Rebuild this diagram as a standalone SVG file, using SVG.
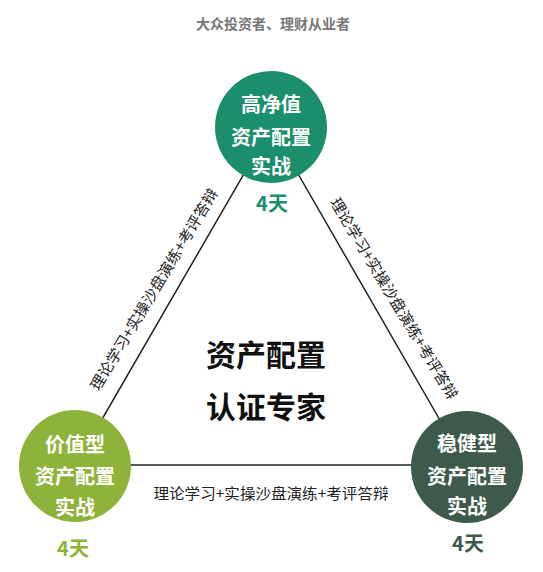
<svg xmlns="http://www.w3.org/2000/svg" width="543" height="572" viewBox="0 0 543 572">
<style>
text{font-family:"Noto Sans CJK SC","Noto Sans CJK JP",sans-serif;text-anchor:middle;dominant-baseline:central}
.title{font-size:14px;font-weight:bold;fill:#777}
.ct{font-size:20px;font-weight:bold;fill:#fff}
.days{font-size:20px;font-weight:bold}
.lbl{font-size:15px;fill:#222}
.center{font-size:30px;font-weight:bold;fill:#111}
.edge{stroke:#222;stroke-width:1.5;fill:none}
</style>
<rect width="543" height="572" fill="#fff"/>
<text class="title" x="273" y="23">大众投资者、理财从业者</text>
<g id="connectors">
<line class="edge" x1="271" y1="127" x2="75" y2="466"/>
<line class="edge" x1="271" y1="127" x2="467" y2="467"/>
<line class="edge" x1="75" y1="465" x2="467" y2="465"/>
<text class="lbl" transform="translate(153,289) rotate(-59)" textLength="232" lengthAdjust="spacingAndGlyphs">理论学习+实操沙盘演练+考评答辩</text>
<text class="lbl" transform="translate(395,298) rotate(59)" textLength="232" lengthAdjust="spacingAndGlyphs">理论学习+实操沙盘演练+考评答辩</text>
<text class="lbl" x="271" y="492" textLength="235" lengthAdjust="spacingAndGlyphs">理论学习+实操沙盘演练+考评答辩</text>
</g>
<g id="center">
<text class="center" x="266" y="353">资产配置</text>
<text class="center" x="266" y="405">认证专家</text>
</g>
<g id="top">
<circle cx="271" cy="127" r="56" fill="#1b8e6b"/>
<text class="ct" x="271" y="103">高净值</text>
<text class="ct" x="271" y="136">资产配置</text>
<text class="ct" x="271" y="165">实战</text>
<text class="days" x="272" y="202" fill="#1b8e6b">4天</text>
</g>
<g id="left">
<circle cx="75" cy="466" r="56" fill="#8db33a"/>
<text class="ct" x="75" y="443">价值型</text>
<text class="ct" x="75" y="475">资产配置</text>
<text class="ct" x="75" y="506">实战</text>
<text class="days" x="73" y="547" fill="#8db33a">4天</text>
</g>
<g id="right">
<circle cx="467" cy="467" r="56" fill="#3d5a4a"/>
<text class="ct" x="467" y="442">稳健型</text>
<text class="ct" x="467" y="475">资产配置</text>
<text class="ct" x="467" y="505">实战</text>
<text class="days" x="468" y="542" fill="#3d5a4a">4天</text>
</g>
</svg>
